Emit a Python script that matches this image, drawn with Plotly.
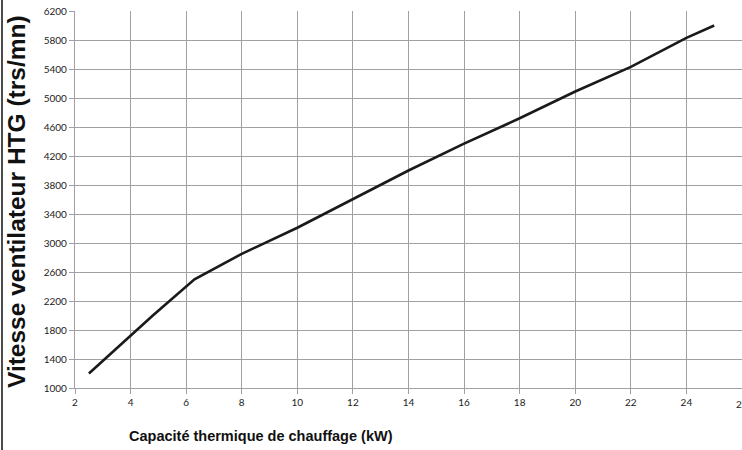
import plotly.graph_objects as go

capacite_kw = [2.5, 4, 4.8, 6.3, 8, 10, 12, 14, 16, 18, 20, 22, 24, 25]
vitesse_trs = [1200, 1720, 2000, 2500, 2850, 3210, 3600, 4000, 4370, 4720, 5090, 5430, 5830, 6000]
x_ticks = [2, 4, 6, 8, 10, 12, 14, 16, 18, 20, 22, 24, 26]
y_ticks = [1000, 1400, 1800, 2200, 2600, 3000, 3400, 3800, 4200, 4600, 5000, 5400, 5800, 6200]

x_title = "Capacité thermique de chauffage (kW)"
y_title = "Vitesse ventilateur HTG (trs/mn)"

W, H = 742, 450
ml, mr, mt, mb = 75, 0, 11, 62
pw, ph = W - ml - mr, H - mt - mb

tick_font = dict(family="Lato, Arial", size=10, color="#222")
grid = "#a0a0a4"

fig = go.Figure()
fig.add_trace(go.Scatter(x=capacite_kw, y=vitesse_trs, mode="lines",
                         line=dict(color="#1a1a1a", width=2.6), showlegend=False))

fig.update_xaxes(range=[2, 26], tickvals=x_ticks, ticktext=[str(v) for v in x_ticks],
                 showgrid=True, gridcolor=grid, gridwidth=1.2,
                 showline=True, linecolor=grid, linewidth=1.2,
                 ticks="outside", ticklen=5, tickcolor=grid,
                 tickfont=tick_font, zeroline=False, fixedrange=True)
fig.update_yaxes(range=[1000, 6200], tickvals=y_ticks, ticktext=[str(v) for v in y_ticks],
                 showgrid=True, gridcolor=grid, gridwidth=1.2,
                 showline=True, linecolor=grid, linewidth=1.2, mirror=True,
                 ticks="outside", ticklen=5, tickcolor=grid,
                 tickfont=tick_font, zeroline=False, fixedrange=True)

# last x tick label (partly cut by the right edge, as in the reference)
fig.add_annotation(text=str(x_ticks[-1]), xref="x", yref="paper", x=x_ticks[-1], y=0,
                   yshift=-16, showarrow=False, xanchor="center", yanchor="middle",
                   font=tick_font)

# border line on left edge
fig.add_shape(type="line", xref="paper", yref="paper",
              x0=(2 - ml) / pw, x1=(2 - ml) / pw, y0=-mb / ph, y1=1 + mt / ph,
              line=dict(color="#111", width=1.5))

fig.add_annotation(text=f"<b>{x_title}</b>", xref="paper", yref="paper",
                   x=(261 - ml) / pw, y=(H - mb - 436) / ph, showarrow=False,
                   xanchor="center", yanchor="middle",
                   font=dict(family="Liberation Sans, Arial", size=14.5, color="#111"))
fig.add_annotation(text=f"<b>{y_title}</b>", xref="paper", yref="paper",
                   x=(17 - ml) / pw, y=(H - mb - 202) / ph, showarrow=False, textangle=-90,
                   xanchor="center", yanchor="middle",
                   font=dict(family="Liberation Sans, Arial", size=24.5, color="#111"))

fig.update_layout(width=W, height=H, margin=dict(l=ml, r=mr, t=mt, b=mb),
                  plot_bgcolor="white", paper_bgcolor="white")

fig.write_html("out.html", config={"displayModeBar": False},
               post_script="document.body.style.margin='0px';document.body.style.overflow='hidden';")
